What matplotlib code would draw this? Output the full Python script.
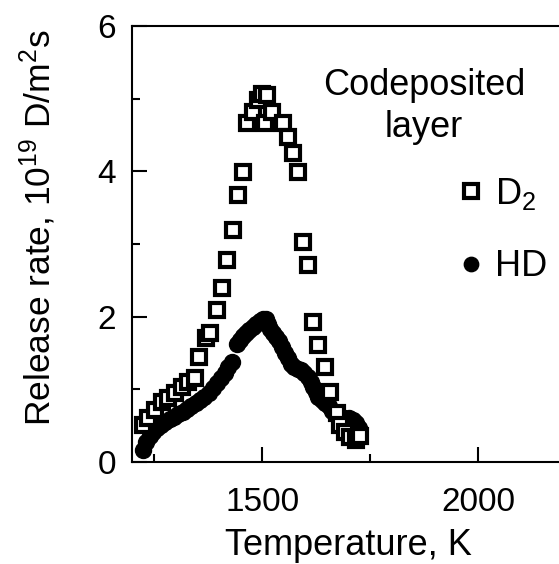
import numpy as np
import matplotlib
matplotlib.use("Agg")
import matplotlib.pyplot as plt
from matplotlib.ticker import MultipleLocator, FixedLocator

plt.rcParams['font.family'] = ['Liberation Sans', 'DejaVu Sans']
plt.rcParams['mathtext.fontset'] = 'custom'
plt.rcParams['mathtext.rm'] = 'Liberation Sans'
plt.rcParams['mathtext.it'] = 'Liberation Sans:italic'

# D2 release (squares)
d2_T = [1224, 1236, 1252, 1268, 1282, 1298, 1315, 1329, 1345, 1354, 1370, 1380,
        1396, 1407, 1419, 1433, 1444, 1456, 1465, 1478, 1490, 1500, 1507, 1512,
        1522, 1548, 1560, 1572, 1583, 1595, 1606, 1618, 1630, 1646, 1657, 1674,
        1681, 1692, 1704, 1718, 1727]
d2_rate = [0.51, 0.60, 0.71, 0.82, 0.88, 0.95, 1.03, 1.10, 1.16, 1.44, 1.70, 1.77,
           2.09, 2.39, 2.78, 3.19, 3.67, 3.99, 4.66, 4.82, 4.98, 5.06, 4.67, 5.05,
           4.82, 4.66, 4.47, 4.25, 3.99, 3.02, 2.71, 1.92, 1.61, 1.31, 0.96, 0.67,
           0.51, 0.41, 0.34, 0.30, 0.36]

# HD release (filled circles)
hd_T = [1224, 1232, 1240, 1248, 1257, 1266, 1276, 1286, 1296, 1306, 1316, 1326,
        1336, 1346, 1356, 1366, 1376, 1386, 1396, 1406, 1414, 1422, 1431, 1442,
        1448, 1455, 1462, 1470, 1478, 1486, 1494, 1502, 1508, 1513, 1518, 1525,
        1533, 1540, 1547, 1553, 1559, 1566, 1574, 1582, 1590, 1598, 1606, 1612,
        1618, 1624, 1630, 1638, 1646, 1654, 1662, 1670, 1680, 1690, 1700, 1710,
        1718, 1724]
hd_rate = [0.17, 0.28, 0.35, 0.41, 0.46, 0.51, 0.55, 0.59, 0.62, 0.66, 0.69, 0.73,
           0.77, 0.81, 0.85, 0.90, 0.95, 1.02, 1.09, 1.16, 1.23, 1.30, 1.38, 1.62,
           1.68, 1.73, 1.77, 1.81, 1.86, 1.90, 1.94, 1.97, 1.96, 1.90, 1.83, 1.77,
           1.72, 1.66, 1.58, 1.50, 1.43, 1.35, 1.30, 1.28, 1.26, 1.22, 1.17, 1.10,
           1.03, 0.96, 0.90, 0.85, 0.81, 0.77, 0.70, 0.66, 0.63, 0.61, 0.60, 0.58,
           0.53, 0.47]

fig = plt.figure(figsize=(5.59, 5.64), dpi=100)
ax = fig.add_axes([0.237, 0.181, 0.773, 0.773])

ax.plot(hd_T, hd_rate, 'o', color='black', ms=11.5, label='HD', zorder=2)
ax.plot(d2_T, d2_rate, 's', mfc='white', mec='black', ms=10.5, mew=3,
        label='D$_2$', zorder=3)

ax.set_xlim(1200, 2200)
ax.set_ylim(0, 6)
ax.xaxis.set_major_locator(FixedLocator([1500, 2000]))
ax.xaxis.set_minor_locator(FixedLocator([1250, 1750]))
ax.yaxis.set_major_locator(MultipleLocator(2))
ax.yaxis.set_minor_locator(MultipleLocator(1))
ax.tick_params(which='both', direction='in', width=1.5, labelsize=24)
ax.tick_params(which='major', length=11)
ax.tick_params(which='minor', length=6)
ax.tick_params(axis='x', pad=18)
ax.tick_params(axis='y', pad=12)
for s in ax.spines.values():
    s.set_linewidth(1.5)

ax.set_xlabel('Temperature, K', fontsize=26, labelpad=7)
ax.set_ylabel('Release rate, 10$^{19}$ D/m$^{2}$s', fontsize=25.5)
ax.yaxis.set_label_coords(-0.172, 0.537)

ax.text(0.675, 0.815, 'Codeposited\nlayer', transform=ax.transAxes,
        fontsize=26, ha='center', va='center', linespacing=1.25)

h = ax.get_legend_handles_labels()
ax.legend(h[0][::-1], h[1][::-1], loc='upper left', bbox_to_anchor=(0.725, 0.69),
          frameon=False, fontsize=26, handlelength=0.6, handletextpad=0.35,
          markerscale=0.9, labelspacing=1.05, borderaxespad=0)

fig.savefig('out.png', dpi=100)
